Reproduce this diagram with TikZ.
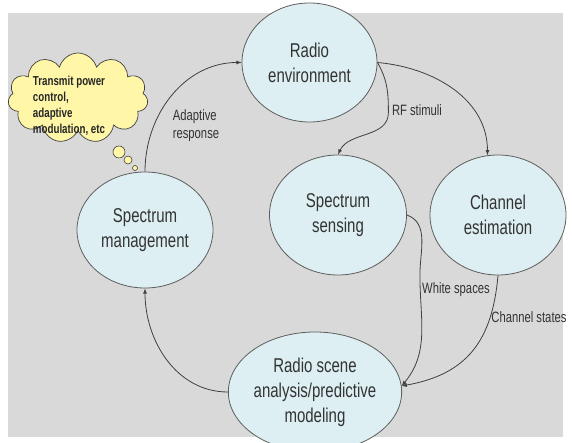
\documentclass[tikz,border=0pt]{standalone}
\usepackage{fontspec}
\setmainfont{Liberation Sans}[FakeStretch=0.75]
\usetikzlibrary{shapes.geometric,shapes.symbols}

\definecolor{slidegray}{RGB}{217,217,217}
\definecolor{bubblefill}{RGB}{221,239,243}
\definecolor{cloudfill}{RGB}{255,246,168}
\definecolor{inkgray}{RGB}{64,64,64}

\begin{document}
\begin{tikzpicture}[x=1pt,y=1pt,
  stage/.style={ellipse, draw=inkgray!85, fill=bubblefill, line width=0.8pt,
    minimum width=136pt, minimum height=120pt, inner sep=0pt, align=center,
    text=black!80, font=\fontsize{20}{25}\selectfont},
  flow/.style={draw=inkgray, line width=0.8pt, -latex},
  lbl/.style={text=black!80, inner sep=0pt, font=\fontsize{15}{18}\selectfont}]
\useasboundingbox (0,0) rectangle (572,443);
\fill[white] (0,0) rectangle (572,443);
\fill[slidegray] (8,6) rectangle (563,430);

% thought cloud
\node[cloud, cloud puffs=11, aspect=1.55, draw=inkgray, fill=cloudfill, line width=0.7pt,
  minimum width=140pt, minimum height=90pt, inner sep=0pt] (cloud) at (78,345) {};
\node[align=left, inner sep=0pt, text=black!85, font=\bfseries\fontsize{13}{16}\selectfont]
  (note) at (69,337) {Transmit power\\control,\\adaptive\\modulation, etc};
\filldraw[draw=inkgray, fill=cloudfill, line width=0.6pt]
  (119,291) circle (6) (128,283) circle (4) (135,275) circle (2.5);

% stages of the cycle
\node[stage, minimum width=135pt, minimum height=119pt] (env) at (309.5,380.5) {Radio\\environment};
\node[stage, minimum width=137pt] (sense) at (338,228) {Spectrum\\sensing};
\node[stage] (chan) at (498,228) {Channel\\estimation};
\node[stage, minimum height=116pt] (mgmt) at (145,213) {Spectrum\\management};
\node[stage] (scene) at (315,51) {Radio scene\\analysis/predictive\\modeling};

\draw[flow] (mgmt.north) to[out=90,in=180] (env.west);
\draw[flow] (env.east) to[out=-5,in=90] (chan.100);
\draw[flow] (env.east) to[out=-60,in=90] ++(11,-50) to[out=-90,in=65] (sense.north);
\draw[flow] (sense.east) to[out=-20,in=90] ++(13,-60) to[out=-90,in=50] (scene.4);
\draw[flow] (chan.south) to[out=-95,in=10,looseness=1.15] (scene.4);
\draw[flow] (scene.west) to[out=180,in=-90] (mgmt.south);

\node[lbl, align=left] (adapt) at (196,317) {Adaptive\\response};
\node[lbl] (rf) at (417,333) {RF stimuli};
\node[lbl] (white) at (456,153) {White spaces};
\node[lbl] (states) at (529,126) {Channel states};
\end{tikzpicture}
\end{document}
